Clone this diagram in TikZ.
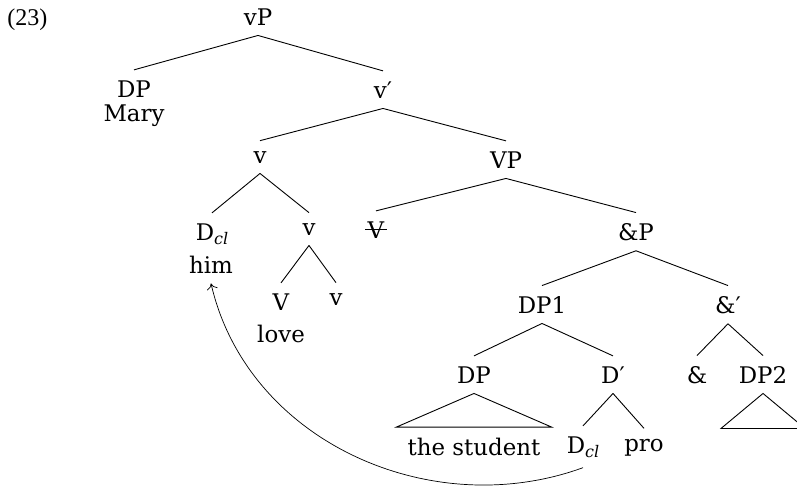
\documentclass[tikz,border=0pt]{standalone}
\usepackage{fontspec}
\setmainfont{DejaVu Serif}
\newfontfamily\exfont{Liberation Serif}
\usetikzlibrary{arrows.meta}
\newcommand{\Dcl}{D\raisebox{-4pt}{\fontsize{16}{16}\selectfont\itshape cl}}

\begin{document}
\begin{tikzpicture}[x=1pt, y=1pt, line width=0.9pt,
  every node/.style={font=\fontsize{22.9}{27}\selectfont, inner xsep=2pt, inner ysep=10pt, anchor=base},
  movearrow/.style={-{To[length=6pt,width=11pt]}, line width=0.7pt}]
\useasboundingbox (0,0) rectangle (797,-488);
\node[anchor=base west, inner sep=0pt, font=\exfont\fontsize{24}{28}\selectfont] (ex) at (7,-25) {(23)};
% tree nodes
\node (vP) at (258,-25) {vP};
\node (dp) at (134,-97) {DP};
\node (mary) at (134,-121) {Mary};
\node (vbar) at (383,-98) {v′};
\node (v) at (260,-163) {v};
\node (vp) at (506,-168) {VP};
\node (dcl) at (212,-240) {\Dcl};
\node (him) at (211,-273) {him};
\node (vs) at (309,-235) {v};
\node (vt) at (376,-238) {V};
\node (andp) at (636,-240) {\&P};
\node (vv) at (281,-310) {V};
\node (love) at (281,-342) {love};
\node (vw) at (336,-305) {v};
\node (dp1) at (542,-313) {DP1};
\node (andbar) at (728,-313) {\&′};
\node (dpa) at (474,-383) {DP};
\node (dbar) at (613,-383) {D′};
\node (amp) at (697,-383) {\&};
\node (dp2) at (763,-383) {DP2};
\node (student) at (474,-455) {the student};
\node (dcl2) at (583,-453) {\Dcl};
\node (pro) at (644,-451) {pro};
% branches
\draw (vP.south) -- (dp.north);
\draw (vP.south) -- (vbar.north);
\draw (vbar.south) -- (v.north);
\draw (vbar.south) -- (vp.north);
\draw (v.south) -- (dcl.north);
\draw (v.south) -- (vs.north);
\draw (vs.south) -- (vv.north);
\draw (vs.south) -- (vw.north);
\draw (vp.south) -- (vt.north);
\draw (vp.south) -- (andp.north);
\draw (andp.south) -- (dp1.north);
\draw (andp.south) -- (andbar.north);
\draw (dp1.south) -- (dpa.north);
\draw (dp1.south) -- (dbar.north);
\draw (andbar.south) -- (amp.north);
\draw (andbar.south) -- (dp2.north);
\draw (dbar.south) -- (dcl2.north);
\draw (dbar.south) -- (pro.north);
% triangles
\draw (dpa.south) -- ([xshift=-9pt]student.north west) -- ([xshift=9pt]student.north east) -- cycle;
\draw (dp2.south) -- ++(-42,-35) -- ++(84,0) -- cycle;
% deleted V
\draw[line width=0.8pt] (vt.west) -- (vt.east);
% movement
\draw[movearrow] (dcl2.south) to[out=200, in=-77] (him.south);
\end{tikzpicture}
\end{document}
